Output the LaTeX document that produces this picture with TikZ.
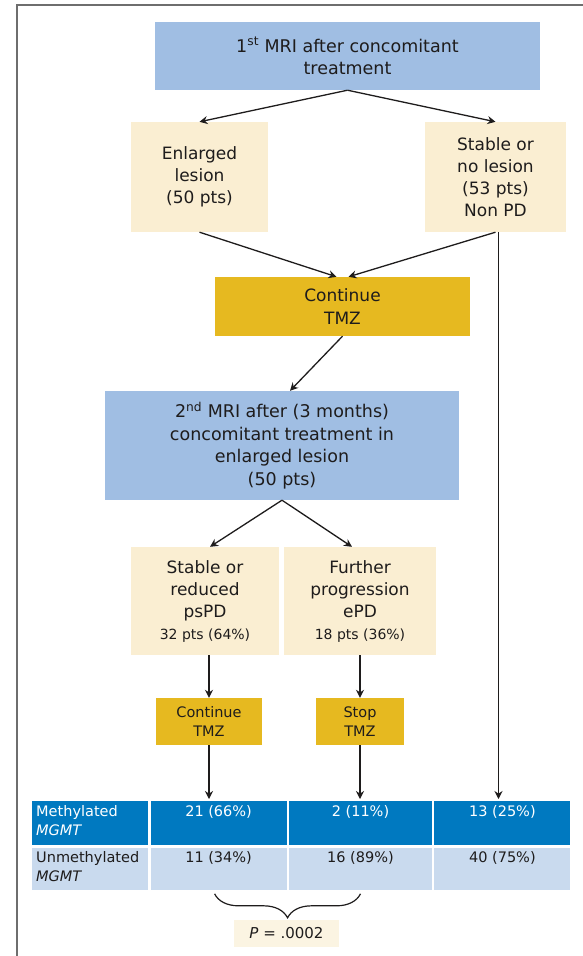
\documentclass[tikz,border=0pt]{standalone}
\usepackage{fontspec}
\setmainfont{DejaVu Sans}
\usetikzlibrary{positioning,arrows.meta,decorations.pathreplacing}

\definecolor{mriblue}{RGB}{160,190,227}
\definecolor{lesioncream}{RGB}{250,238,210}
\definecolor{tmzgold}{RGB}{230,185,32}
\definecolor{methblue}{RGB}{0,121,192}
\definecolor{unmethblue}{RGB}{201,218,238}
\definecolor{pcream}{RGB}{251,244,226}
\definecolor{ink}{RGB}{30,28,28}
\definecolor{framegray}{RGB}{110,110,110}

\begin{document}
\begin{tikzpicture}[x=1pt, y=-1pt,
    every node/.style={inner sep=0pt, text=ink, align=center},
    mri/.style={fill=mriblue, font=\fontsize{17.5}{22.5}\selectfont},
    lesion/.style={fill=lesioncream, font=\fontsize{17}{22}\selectfont},
    tmz/.style={fill=tmzgold, font=\fontsize{17}{23}\selectfont},
    tmzsmall/.style={fill=tmzgold, font=\fontsize{14.5}{19}\selectfont},
    meth/.style={fill=methblue, minimum height=44pt},
    unmeth/.style={fill=unmethblue, minimum height=42pt},
    celltext/.style={font=\fontsize{14.5}{19}\selectfont},
    flow/.style={draw=ink, line width=1.3pt, -{Stealth[length=8pt,width=8pt]}}
  ]
  \useasboundingbox (0,0) rectangle (583,956);

  % frame
  \draw [framegray, line width=2pt] (583,5) -- (17,5) -- (17,956);

  % first MRI and its outcomes
  \node [mri, minimum width=385pt, minimum height=68pt] (mri1) at (347.5,56) {1\textsuperscript{st} MRI after concomitant\\treatment};
  \node [lesion, minimum width=137pt, minimum height=110pt] (enl) at (199.5,177) {Enlarged\\lesion\\(50 pts)};
  \node [lesion, minimum width=141pt, minimum height=110pt] (stab) at (495.5,177) {Stable or\\no lesion\\(53 pts)\\Non PD};
  \node [tmz, minimum width=255pt, minimum height=59pt] (tmz1) at (342.5,306.5) {Continue\\TMZ};

  % second MRI and its outcomes
  \node [mri, minimum width=354pt, minimum height=109pt] (mri2) at (282,445.5) {2\textsuperscript{nd} MRI after (3 months)\\concomitant treatment in\\enlarged lesion\\(50 pts)};
  \node [lesion, minimum width=148pt, minimum height=108pt] (pspd) at (205,601) {Stable or\\reduced\\psPD\\{\fontsize{14}{19}\selectfont 32 pts (64\%)}};
  \node [lesion, minimum width=152pt, minimum height=108pt] (epd) at (360,601) {Further\\progression\\ePD\\{\fontsize{14}{19}\selectfont 18 pts (36\%)}};
  \node [tmzsmall, minimum width=106pt, minimum height=47pt] (tmz2) at (209,721.5) {Continue\\TMZ};
  \node [tmzsmall, minimum width=88pt, minimum height=47pt] (stop) at (360,721.5) {Stop\\TMZ};

  % MGMT table
  \node [meth, minimum width=116pt, anchor=north west] (m0) at (32,801) {};
  \node [meth, minimum width=136pt, right=2pt of m0] (m1) {};
  \node [meth, minimum width=143pt, right=2pt of m1] (m2) {};
  \node [meth, minimum width=136pt, right=2pt of m2] (m3) {};
  \node [unmeth, minimum width=116pt, below=2pt of m0] (u0) {};
  \node [unmeth, minimum width=136pt, below=2pt of m1] (u1) {};
  \node [unmeth, minimum width=143pt, below=2pt of m2] (u2) {};
  \node [unmeth, minimum width=136pt, below=2pt of m3] (u3) {};

  \node [celltext, text=white, align=left, anchor=north west] (m0t) at ([xshift=4pt,yshift=-4pt]m0.north west) {Methylated\\\textit{MGMT}};
  \node [celltext, text=white, below=4pt of m1.north] (m1t) {21 (66\%)};
  \node [celltext, text=white, below=4pt of m2.north] (m2t) {2 (11\%)};
  \node [celltext, text=white, below=4pt of m3.north] (m3t) {13 (25\%)};
  \node [celltext, align=left, anchor=north west] (u0t) at ([xshift=4pt,yshift=-4pt]u0.north west) {Unmethylated\\\textit{MGMT}};
  \node [celltext, below=4pt of u1.north] (u1t) {11 (34\%)};
  \node [celltext, below=4pt of u2.north] (u2t) {16 (89\%)};
  \node [celltext, below=4pt of u3.north] (u3t) {40 (75\%)};

  % P value
  \node [fill=pcream, minimum width=105pt, minimum height=27pt, font=\fontsize{15}{18}\selectfont] (pval) at (286.5,933.5) {\textit{P} = .0002};
  \draw [ink, line width=1.2pt, decorate, decoration={brace, mirror, amplitude=24pt}] ([xshift=-4pt,yshift=-4pt]u1.south) -- ([yshift=-4pt]u2.south);

  % arrows
  \coordinate (stabout) at ([xshift=3pt]stab.south);
  \draw [flow] (mri1.south) -- (enl.north);
  \draw [flow] (mri1.south) -- (stab.north);
  \draw [flow] (enl.south) -- ([xshift=-6pt]tmz1.north);
  \draw [flow] (stab.south) -- ([xshift=6pt]tmz1.north);
  \draw [flow] (tmz1.south) -- ([xshift=8pt]mri2.north);
  \draw [flow] (mri2.south) -- ([xshift=5pt]pspd.north);
  \draw [flow] (mri2.south) -- ([xshift=-8pt]epd.north);
  \draw [flow] (tmz2.north |- pspd.south) -- (tmz2.north);
  \draw [flow] (epd.south) -- (stop.north);
  \draw [flow, shorten >=2pt] (tmz2.south) -- (tmz2.south |- m1.north);
  \draw [flow, shorten >=2pt] (stop.south) -- (stop.south |- m2.north);
  \draw [flow, shorten >=2pt] (stabout) -- (stabout |- m3.north);
\end{tikzpicture}
\end{document}
